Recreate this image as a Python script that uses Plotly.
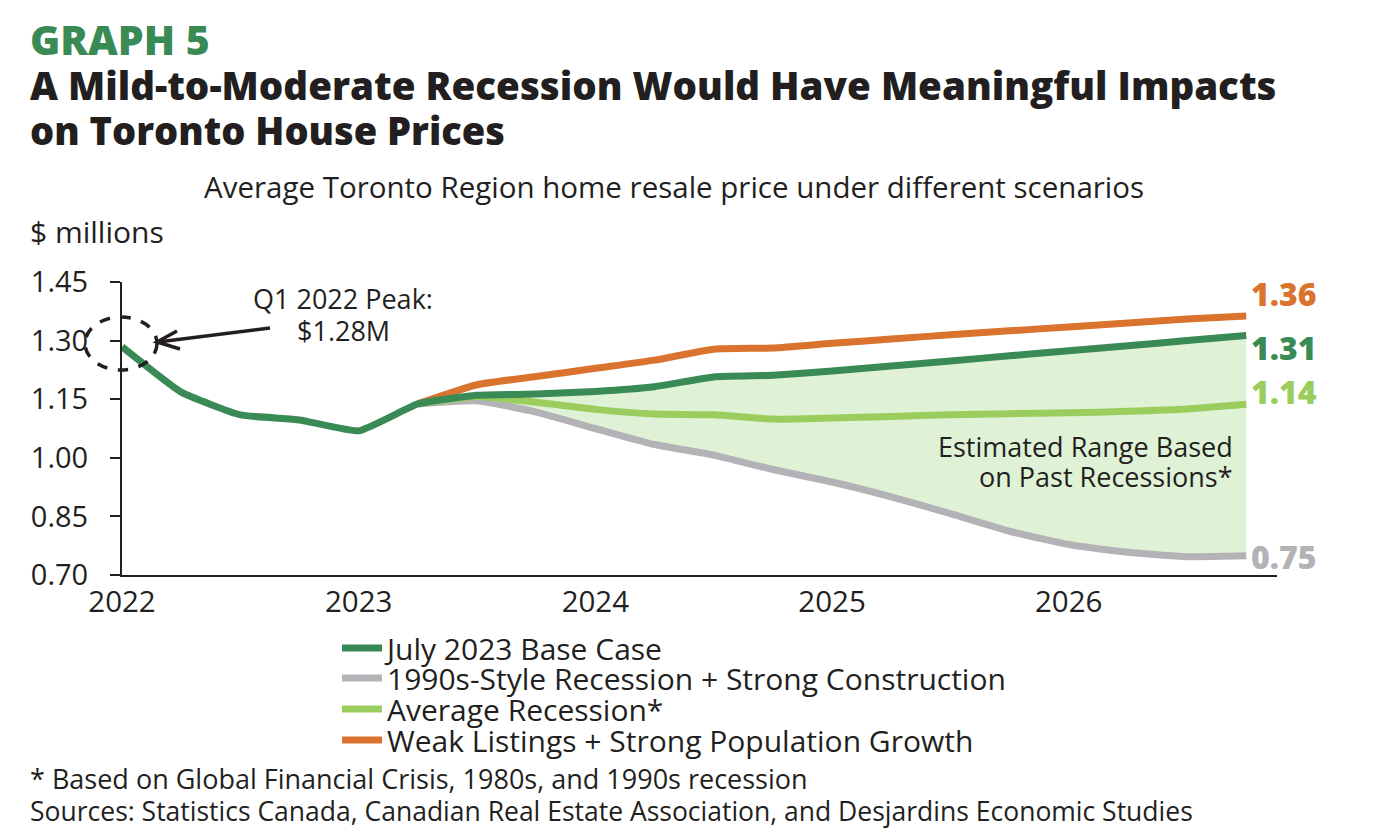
import plotly.graph_objects as go

# ---------------- data ----------------
quarters = [2022.00, 2022.25, 2022.50, 2022.75, 2023.00, 2023.25, 2023.50, 2023.75,
            2024.00, 2024.25, 2024.50, 2024.75, 2025.00, 2025.25, 2025.50, 2025.75,
            2026.00, 2026.25, 2026.50, 2026.75]
base_case = [1.284, 1.168, 1.110, 1.097, 1.069, 1.138, 1.160, 1.163, 1.170, 1.182,
             1.207, 1.211, 1.222, 1.235, 1.248, 1.261, 1.274, 1.287, 1.300, 1.313]

scen_quarters = quarters[5:]
weak_listings = [1.138, 1.187, 1.208, 1.229, 1.250, 1.278, 1.281, 1.293, 1.304, 1.315,
                 1.325, 1.335, 1.345, 1.355, 1.363]
average_rec = [1.138, 1.157, 1.142, 1.124, 1.112, 1.110, 1.099, 1.102, 1.106, 1.110,
               1.113, 1.115, 1.119, 1.125, 1.137]
recession_90s = [1.138, 1.146, 1.117, 1.075, 1.034, 1.007, 0.970, 0.938, 0.900, 0.857,
                 0.812, 0.778, 0.758, 0.747, 0.749]

year_ticks = [2022, 2023, 2024, 2025, 2026]
y_ticks = [0.70, 0.85, 1.00, 1.15, 1.30, 1.45]

names = ["July 2023 Base Case", "1990s-Style Recession + Strong Construction",
         "Average Recession*", "Weak Listings + Strong Population Growth"]

# ---------------- style ----------------
DKGREEN = "#3a8a55"
GRAY = "#b3b3b7"
LTGREEN = "#9acd5e"
ORANGE = "#d9732e"
FILL = "#dff2d5"
INK = "#231f20"
FONT = "Open Sans"
LW = 7

W, H = 1376, 840
ML, MR, MT, MB = 122, 99, 282, 265
PW, PH = W - ML - MR, H - MT - MB


def px(x):
    return (x - ML) / PW


def py(y):
    return (H - MB - y) / PH


fig = go.Figure()

# shaded range (between base case and 1990s-style recession)
fig.add_trace(go.Scatter(x=scen_quarters, y=base_case[5:], mode="lines",
                         line=dict(width=0, shape="spline", smoothing=0.5),
                         showlegend=False, hoverinfo="skip"))
fig.add_trace(go.Scatter(x=scen_quarters, y=recession_90s, mode="lines", fill="tonexty",
                         fillcolor=FILL, line=dict(width=0, shape="spline", smoothing=0.5),
                         showlegend=False, hoverinfo="skip"))

fig.add_trace(go.Scatter(x=scen_quarters, y=weak_listings, mode="lines", name=names[3],
                         line=dict(color=ORANGE, width=LW, shape="spline", smoothing=0.5),
                         legend="legend4"))
fig.add_trace(go.Scatter(x=scen_quarters, y=recession_90s, mode="lines", name=names[1],
                         line=dict(color=GRAY, width=LW, shape="spline", smoothing=0.5),
                         legend="legend2"))
fig.add_trace(go.Scatter(x=scen_quarters, y=average_rec, mode="lines", name=names[2],
                         line=dict(color=LTGREEN, width=LW, shape="spline", smoothing=0.5),
                         legend="legend3"))
fig.add_trace(go.Scatter(x=quarters, y=base_case, mode="lines", name=names[0],
                         line=dict(color=DKGREEN, width=LW, shape="spline", smoothing=0.4),
                         legend="legend"))

ann = []


def text(x, y, s, size, color=INK, xanchor="left", bold=False):
    ann.append(dict(x=px(x), y=py(y), xref="paper", yref="paper", text=s, showarrow=False,
                    xanchor=xanchor, yanchor="middle", borderpad=0,
                    font=dict(family=FONT, size=size, color=color,
                              weight=800 if bold else 400)))


text(29, 39, "GRAPH 5", 41, color=DKGREEN, bold=True)
text(29, 85, "A Mild-to-Moderate Recession Would Have Meaningful Impacts", 38.5, bold=True)
text(29, 130, "on Toronto House Prices", 38, bold=True)
text(674, 186, "Average Toronto Region home resale price under different scenarios", 29.5,
     xanchor="center")
text(29, 232, "$ millions", 30)
text(343, 298, "Q1 2022 Peak:", 27, xanchor="center")
text(343, 330, "$1.28M", 27, xanchor="center")
text(29, 778, "* Based on Global Financial Crisis, 1980s, and 1990s recession", 27)
text(29, 811, "Sources: Statistics Canada, Canadian Real Estate Association, and Desjardins Economic Studies", 26.5)

# end labels
end_vals = [(weak_listings[-1], ORANGE, 22), (base_case[-1], DKGREEN, -12),
            (average_rec[-1], LTGREEN, 13), (recession_90s[-1], GRAY, -1)]
for v, c, ys in end_vals:
    ann.append(dict(x=quarters[-1], y=v, xref="x", yref="y", text=f"{v:.2f}", showarrow=False,
                    xanchor="left", yanchor="middle", xshift=4, yshift=ys, borderpad=0,
                    font=dict(family=FONT, size=32, color=c, weight=800)))

for ys, line in [(15, "Estimated Range Based"), (-15, "on Past Recessions*")]:
    ann.append(dict(x=quarters[-1], y=0.99, xref="x", yref="y", text=line, showarrow=False,
                    xanchor="right", yanchor="middle", xshift=-12, yshift=ys, borderpad=0,
                    font=dict(family=FONT, size=27, color=INK)))

shapes = [
    dict(type="circle", xref="paper", yref="paper", x0=px(85), x1=px(157), y0=py(370), y1=py(317),
         line=dict(color=INK, width=3.5, dash="dash")),
    dict(type="line", xref="paper", yref="paper", x0=px(270), y0=py(328), x1=px(158), y1=py(342),
         line=dict(color=INK, width=3.5)),
    dict(type="path", xref="paper", yref="paper",
         path=f"M {px(177)},{py(331)} L {px(157)},{py(342)} L {px(180)},{py(349)}",
         line=dict(color=INK, width=3.5)),
]

legend_centers = [648, 678, 709, 740]


def leg(yc):
    return dict(x=px(337), y=py(yc), xanchor="left", yanchor="middle",
                font=dict(family=FONT, size=30, color=INK),
                bgcolor="rgba(0,0,0,0)", itemwidth=40)


fig.update_layout(
    width=W, height=H,
    margin=dict(l=ML, r=MR, t=MT, b=MB),
    paper_bgcolor="white", plot_bgcolor="white",
    font=dict(family=FONT, color=INK),
    annotations=ann, shapes=shapes,
    showlegend=True,
    legend=leg(legend_centers[0]),
    legend2=leg(legend_centers[1]),
    legend3=leg(legend_centers[2]),
    legend4=leg(legend_centers[3]),
    xaxis=dict(range=[2022, 2026.88], tickvals=year_ticks, ticktext=[str(y) for y in year_ticks],
               showgrid=False, zeroline=False, showline=True, linecolor=INK, linewidth=2,
               ticks="", tickfont=dict(family=FONT, size=29.5, color=INK)),
    yaxis=dict(range=[0.70, 1.45], tickvals=y_ticks, ticktext=[f"{v:.2f}" for v in y_ticks],
               showgrid=False, zeroline=False, showline=True, linecolor=INK, linewidth=2,
               ticks="outside", ticklen=10, tickwidth=2, tickcolor=INK,
               ticklabelstandoff=16, tickfont=dict(family=FONT, size=29, color=INK)),
)

fig.write_html("out.html")
